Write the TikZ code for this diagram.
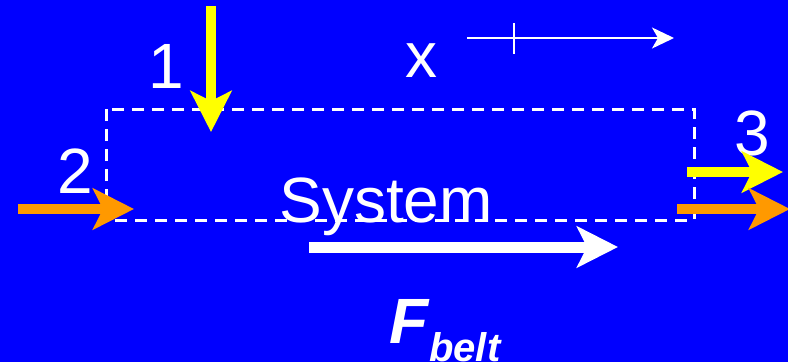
\documentclass[tikz,border=0pt]{standalone}
\usepackage{fontspec}
\setmainfont{Liberation Sans}
\usetikzlibrary{arrows.meta}
\definecolor{bg}{RGB}{0,0,255}
\definecolor{flowyellow}{RGB}{255,255,0}
\definecolor{floworange}{RGB}{255,153,0}
\tikzset{
  lbl/.style={inner sep=0pt, anchor=base, text=white, font=\fontsize{64}{70}\selectfont},
  bigarrow/.style={line width=10pt, -{Stealth[length=41pt,width=41pt,inset=10pt]}},
  sysbox/.style={draw=white, line width=3pt, dash pattern=on 12pt off 8pt},
}
\begin{document}
\begin{tikzpicture}[x=1pt,y=-1pt]
\fill[bg] (0,0) rectangle (788,362);
\useasboundingbox (0,0) rectangle (788,362);
% system box
\coordinate (bx1) at (106,109);
\coordinate (bx2) at (694,220);
\draw[sysbox] (bx1) rectangle (bx2);
% labels
\node[lbl] (l1) at (166,88) {1};
\node[lbl] (l2) at (75,193) {2};
\node[lbl] (l3) at (752,155) {3};
\node[lbl] (lx) at (421,77) {x};
\node[lbl] (sys) at (386,222) {System};
\node[inner sep=0pt, anchor=base west, text=white, font=\fontsize{64}{70}\selectfont\bfseries\itshape] (fb) at (389,343) {F\hspace{1pt}\raisebox{-18pt}{\fontsize{40}{44}\selectfont belt}};
% stream 1
\coordinate (s1a) at (211,6);
\coordinate (s1b) at (211,132);
\draw[bigarrow, flowyellow] (s1a) -- (s1b);
% stream 2
\coordinate (s2a) at (18,209);
\coordinate (s2b) at (134,209);
\draw[bigarrow, floworange] (s2a) -- (s2b);
% stream 3
\coordinate (s3a) at (687,172);
\coordinate (s3b) at (783,172);
\draw[bigarrow, flowyellow] (s3a) -- (s3b);
\coordinate (s3c) at (677,209);
\coordinate (s3d) at (790,209);
\draw[bigarrow, floworange] (s3c) -- (s3d);
% belt force
\coordinate (fa) at (309,247);
\coordinate (fbt) at (618,247);
\draw[bigarrow, white, line width=11pt] (fa) -- (fbt);
% x axis
\coordinate (xa) at (467,38);
\coordinate (xb) at (674,38);
\draw[white, line width=2pt, -{Stealth[length=22pt,width=21pt,inset=6pt]}] (xa) -- (xb);
\coordinate (t1) at (514,23);
\coordinate (t2) at (514,54);
\draw[white, line width=2pt] (t1) -- (t2);
\end{tikzpicture}
\end{document}
